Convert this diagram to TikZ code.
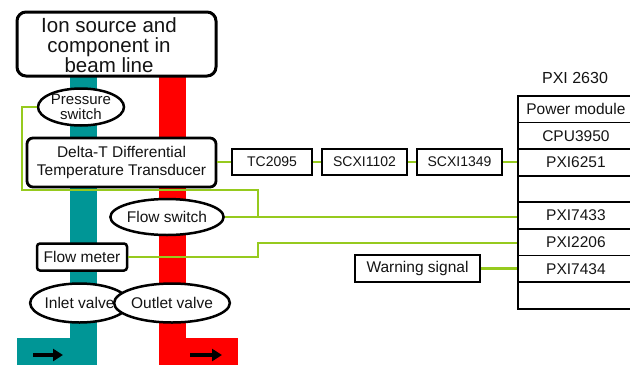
\documentclass[tikz,border=0pt]{standalone}
\usepackage{fontspec}
\setmainfont{Liberation Sans}
\usetikzlibrary{shapes.geometric,arrows.meta}
\definecolor{pipeteal}{RGB}{0,150,150}
\definecolor{pipered}{RGB}{255,0,0}
\definecolor{wire}{RGB}{150,202,30}
\definecolor{txt}{RGB}{20,20,20}
\begin{document}
\begin{tikzpicture}[x=1pt,y=-1pt,
 lbl/.style={font=\fontsize{15.5}{16}\selectfont, text=txt},
 box/.style={draw, line width=2.5pt, fill=white, inner sep=0pt, lbl},
 oval/.style={ellipse, draw, line width=2.5pt, fill=white, inner sep=0pt, lbl},
 wireline/.style={draw=wire, line width=2.3pt},
 small/.style={font=\fontsize{14}{16}\selectfont},
 slot/.style={draw, line width=1.8pt, minimum width=116, minimum height=26.6, inner sep=0pt, lbl, anchor=north west},
 flowarrow/.style={line width=3.8pt, -{Triangle[length=10pt,width=12pt]}}
]
\useasboundingbox (0,0) rectangle (630,365);
% pipes
\fill[pipeteal] (70,76) rectangle (97,365);
\fill[pipeteal] (17,338) rectangle (97,365);
\fill[pipered] (159,76) rectangle (186,365);
\fill[pipered] (159,338) rectangle (238,365);
\draw[flowarrow] (33,355) -- (63,355);
\draw[flowarrow] (190,355) -- (222,355);
% nodes
\node[box, line width=3pt, rounded corners=9pt, minimum width=199, minimum height=64] (src) at (116.5,44) {};
\node[lbl, inner sep=0pt, align=center, font=\fontsize{20.5}{20}\selectfont] (srctext) at (109,45) {Ion source and\\component in\\beam line};
\node[oval, minimum width=86, minimum height=37, align=center, font=\fontsize{15}{15.5}\selectfont] (press) at (81,107) {Pressure\\switch};
\node[box, line width=2.8pt, rounded corners=6pt, minimum width=189, minimum height=49, align=center, font=\fontsize{15.5}{18}\selectfont] (delta) at (121.5,162.5) {Delta-T Differential\\Temperature Transducer};
\node[box, small, minimum width=80, minimum height=26] (tc) at (272,162) {TC2095};
\node[box, small, minimum width=85, minimum height=26] (s1102) at (364.5,162) {SCXI1102};
\node[box, small, minimum width=85, minimum height=26] (s1349) at (459.5,162) {SCXI1349};
\node[oval, minimum width=90, minimum height=36] (fsw) at (167,217) {Flow switch};
\node[box, rounded corners=3pt, minimum width=90, minimum height=27] (fmeter) at (82,257) {Flow meter};
\node[oval, minimum width=85, minimum height=39] (inlet) at (79.5,303) {Inlet valve};
\node[oval, minimum width=92, minimum height=39] (outlet) at (172,303) {Outlet valve};
\node[box, line width=2pt, minimum width=125, minimum height=27] (warn) at (417.5,268.5) {Warning signal};
% chassis
\node[lbl, font=\fontsize{16}{16}\selectfont] (pxi) at (575,78) {PXI 2630};
\node[slot] (slot1) at (517,95) {Power module};
\node[slot] (slot2) at (517,121.6) {CPU3950};
\node[slot] (slot3) at (517,148.2) {PXI6251};
\node[slot] (slot4) at (517,174.8) {};
\node[slot] (slot5) at (517,201.4) {PXI7433};
\node[slot] (slot6) at (517,228) {PXI2206};
\node[slot] (slot7) at (517,254.6) {PXI7434};
\node[slot] (slot8) at (517,281.2) {};
% wires
\coordinate (jp) at (258,217);
\coordinate (jm) at (258,243);
\draw[wireline] (press.west) -| (22,190) -| (jp);
\draw[wireline] (fsw.east) -- (fsw.east -| slot5.west);
\draw[wireline] (fmeter.east) -| (jm) -- (jm -| slot6.west);
\draw[wireline] (tc.west -| delta.east) -- (tc.west);
\draw[wireline] (tc.east) -- (s1102.west);
\draw[wireline] (s1102.east) -- (s1349.west);
\draw[wireline] (s1349.east) -- (s1349.east -| slot3.west);
\draw[wireline] (warn.east) -- (warn.east -| slot7.west);
\end{tikzpicture}
\end{document}
